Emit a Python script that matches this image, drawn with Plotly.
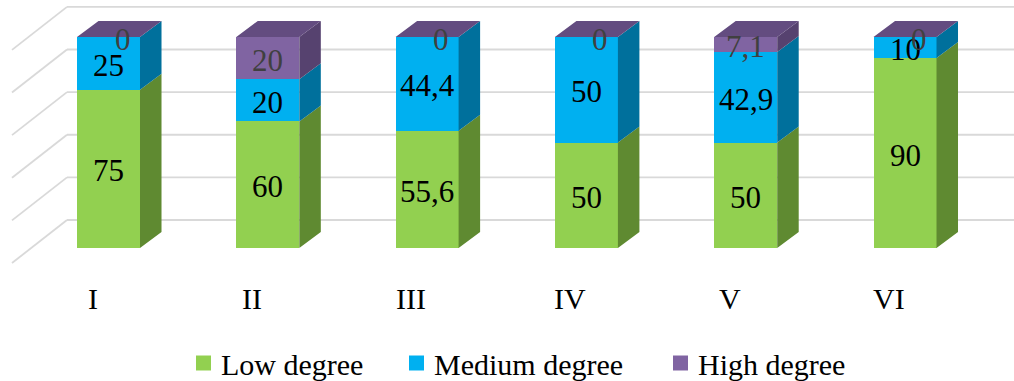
import plotly.graph_objects as go

# ---- data -------------------------------------------------------------
categories = ["I", "II", "III", "IV", "V", "VI"]
series_names = ["Low degree", "Medium degree", "High degree"]
low = [75, 60, 55.6, 50, 50, 90]
medium = [25, 20, 44.4, 50, 42.9, 10]
high = [0, 20, 0, 0, 7.1, 0]
grid_values = [0, 20, 40, 60, 80, 100]

# ---- styling ----------------------------------------------------------
front_colors = ["#92D050", "#00B0F0", "#8064A2"]
side_colors = ["#5F8A31", "#00709C", "#56426F"]
top_color = "#634C80"
label_colors = ["#000000", "#000000", "#404040"]
grid_color = "#D9D9D9"
FONT = "Liberation Serif"
W, H = 1014, 381

# oblique-projection geometry (x in category units, y in value units)
BAR_W = 0.3955            # width of the front face
DX, DY = 0.135, 7.58      # depth of each column
WALL_X0 = -0.2605         # left edge of the back wall
WALL_DY, WALL_K = 13.27, 1.01
SIDE_DX, SIDE_DY = -0.3453, -20.38   # side-wall gridline direction
X_RANGE = [-0.6811, 5.6842]
Y_RANGE = [-63.03, 117.54]

# legend placement (pixels)
LEGEND_SWATCH_X = [196, 409, 673]
LEGEND_Y = 363
SWATCH = 15

series = [low, medium, high]
xs = list(range(len(categories)))


def fmt(v):
    return f"{v:g}".replace(".", ",")


fig = go.Figure()

# front faces
for name, vals, col in zip(series_names, series, front_colors):
    fig.add_trace(go.Bar(
        x=xs, y=vals, width=BAR_W, name=name,
        marker=dict(color=col, line=dict(width=0)),
        hoverinfo="skip", showlegend=False,
    ))

# side faces for each stacked segment
base = [0.0] * len(xs)
for vals, col in zip(series, side_colors):
    px, py = [], []
    for i, v in enumerate(vals):
        b, t = base[i], base[i] + v
        if v > 0:
            xr = xs[i] + BAR_W / 2
            px += [xr, xr + DX, xr + DX, xr, xr, None]
            py += [b, b + DY, t + DY, t, b, None]
    fig.add_trace(go.Scatter(
        x=px, y=py, mode="lines", fill="toself", fillcolor=col,
        line=dict(width=0, color=col), showlegend=False, hoverinfo="skip",
    ))
    base = [b + v for b, v in zip(base, vals)]

# top faces
totals = base
tx, ty = [], []
for i, t in enumerate(totals):
    xl, xr = xs[i] - BAR_W / 2, xs[i] + BAR_W / 2
    tx += [xl, xl + DX, xr + DX, xr, xl, None]
    ty += [t, t + DY, t + DY, t, t, None]
fig.add_trace(go.Scatter(
    x=tx, y=ty, mode="lines", fill="toself", fillcolor=top_color,
    line=dict(width=0, color=top_color), showlegend=False, hoverinfo="skip",
))

# back-wall and side-wall gridlines
shapes = []
for g in grid_values:
    yb = WALL_DY + g * WALL_K
    shapes.append(dict(type="line", xref="x", yref="y", layer="below",
                       x0=WALL_X0, y0=yb, x1=X_RANGE[1], y1=yb,
                       line=dict(color=grid_color, width=1.8)))
    shapes.append(dict(type="line", xref="x", yref="y", layer="below",
                       x0=WALL_X0, y0=yb, x1=WALL_X0 + SIDE_DX, y1=yb + SIDE_DY,
                       line=dict(color=grid_color, width=1.8)))

# value labels
annotations = []
base = [0.0] * len(xs)
for vals, lc in zip(series, label_colors):
    for i, v in enumerate(vals):
        if v > 0:
            y, xshift = base[i] + v / 2, 0
        else:
            y, xshift = base[i], 14
        annotations.append(dict(
            x=xs[i], y=y, xref="x", yref="y", text=fmt(v), showarrow=False,
            xshift=xshift, yshift=-2, xanchor="center", yanchor="middle",
            font=dict(family=FONT, size=31, color=lc),
        ))
    base = [b + v for b, v in zip(base, vals)]

# category labels along the floor edge
for i, c in enumerate(categories):
    annotations.append(dict(
        x=xs[i], y=-23.7, xref="x", yref="y", text=c, showarrow=False,
        xshift=-16, xanchor="center", yanchor="middle",
        font=dict(family=FONT, size=30, color="#000000"),
    ))

# legend: colour swatch followed by the series name
for name, col, sx in zip(series_names, front_colors, LEGEND_SWATCH_X):
    shapes.append(dict(
        type="rect", xref="paper", yref="paper",
        x0=sx / W, x1=(sx + SWATCH) / W,
        y0=1 - (LEGEND_Y + SWATCH / 2) / H, y1=1 - (LEGEND_Y - SWATCH / 2) / H,
        fillcolor=col, line=dict(width=0),
    ))
    annotations.append(dict(
        x=(sx + SWATCH + 8) / W, y=1 - LEGEND_Y / H, xref="paper", yref="paper",
        text=name, showarrow=False, xanchor="left", yanchor="middle",
        yshift=-1, font=dict(family=FONT, size=30, color="#000000"),
    ))

fig.update_layout(
    width=W, height=H,
    margin=dict(l=0, r=0, t=0, b=0, autoexpand=False),
    paper_bgcolor="white", plot_bgcolor="white",
    barmode="stack",
    xaxis=dict(range=X_RANGE, visible=False, fixedrange=True),
    yaxis=dict(range=Y_RANGE, visible=False, fixedrange=True),
    shapes=shapes,
    annotations=annotations,
    showlegend=False,
)

fig.write_html("out.html")
